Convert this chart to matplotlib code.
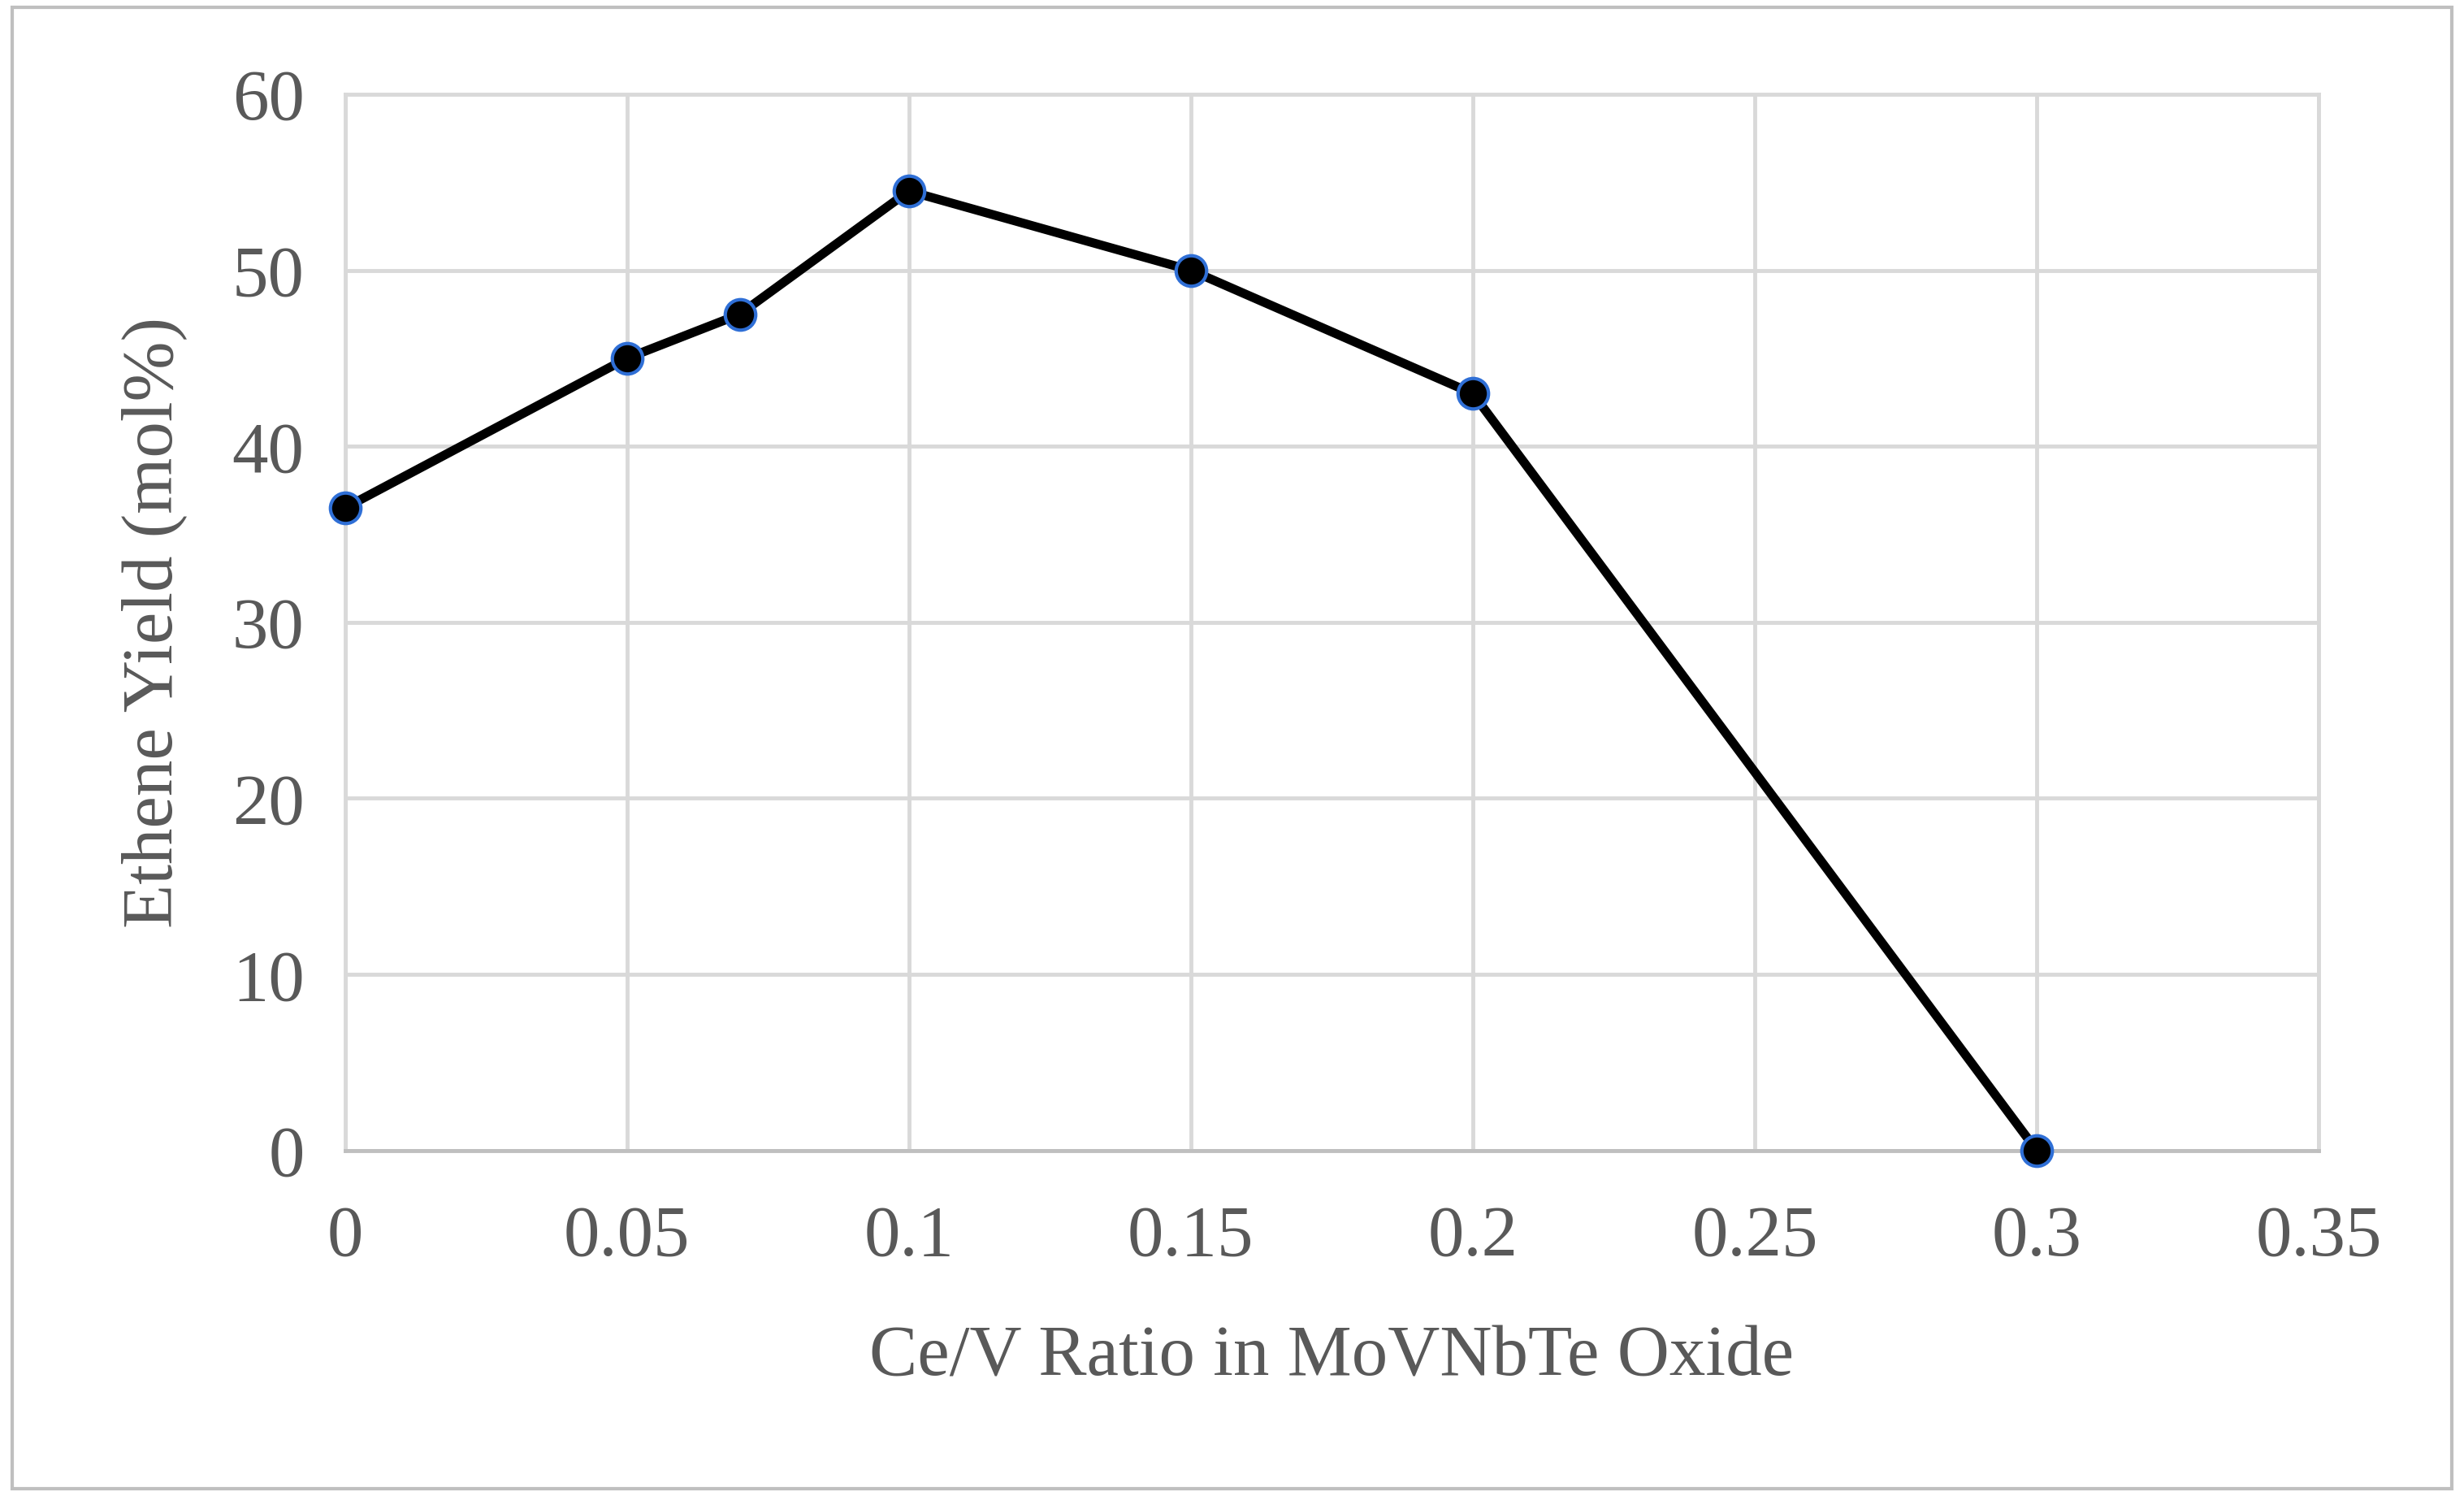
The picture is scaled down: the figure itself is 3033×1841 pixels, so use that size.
import matplotlib
matplotlib.use("Agg")
import matplotlib.pyplot as plt
from matplotlib.patches import Rectangle

ce_v_ratio = [0, 0.05, 0.07, 0.1, 0.15, 0.2, 0.3]
ethene_yield = [36.5, 45.0, 47.5, 54.5, 50.0, 43.0, 0.0]
x_ticks = [0, 0.05, 0.1, 0.15, 0.2, 0.25, 0.3, 0.35]
x_labels = ["0", "0.05", "0.1", "0.15", "0.2", "0.25", "0.3", "0.35"]
y_ticks = [0, 10, 20, 30, 40, 50, 60]

plt.rcParams["font.family"] = ["Liberation Serif", "DejaVu Serif"]
text_color = "#595959"
grid_color = "#d9d9d9"

fig = plt.figure(figsize=(30.33, 18.41), dpi=100)
fig.patches.append(Rectangle((0.005, 0.005), 0.99, 0.99, transform=fig.transFigure,
                             fill=False, edgecolor="#bfbfbf", linewidth=3))
ax = fig.add_axes([0.140, 0.231, 0.801, 0.706])

ax.plot(ce_v_ratio, ethene_yield, color="black", linewidth=8, marker="o",
        markersize=27, markerfacecolor="black", markeredgecolor="#2f6fd6",
        markeredgewidth=3, zorder=3, clip_on=False)

ax.set_xlim(0, 0.35)
ax.set_ylim(0, 60)
ax.set_xticks(x_ticks)
ax.set_xticklabels(x_labels)
ax.set_yticks(y_ticks)
ax.grid(True, color=grid_color, linewidth=3.5)
ax.set_axisbelow(True)
for s in ax.spines.values():
    s.set_color(grid_color)
    s.set_linewidth(3.5)
ax.spines["bottom"].set_color("#bfbfbf")
ax.tick_params(axis="x", pad=48)
ax.tick_params(axis="y", pad=36)
ax.tick_params(length=0, labelsize=64, colors=text_color)
ax.set_xlabel("Ce/V Ratio in MoVNbTe Oxide", fontsize=64, color=text_color, labelpad=48)
ax.set_ylabel("Ethene Yield (mol%)", fontsize=64, color=text_color, labelpad=40)

fig.savefig("out.png", dpi=100)
